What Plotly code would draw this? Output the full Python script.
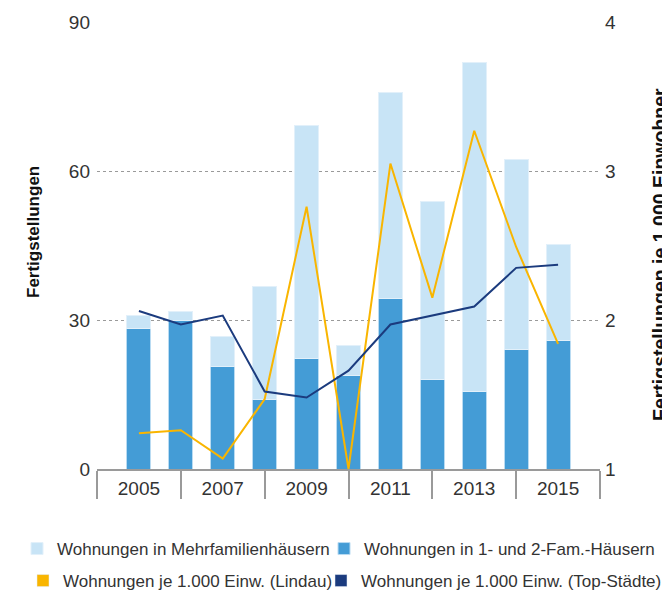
import plotly.graph_objects as go

years = [2005, 2006, 2007, 2008, 2009, 2010, 2011, 2012, 2013, 2014, 2015]
tick_years = [2005, 2007, 2009, 2011, 2013, 2015]
tick_labels = ["2005", "2007", "2009", "2011", "2013", "2015"]
sep_years = [2004, 2006, 2008, 2010, 2012, 2014, 2016]

fam12 = [28.2, 30.0, 20.6, 13.9, 22.3, 18.9, 34.4, 18.1, 15.6, 24.0, 25.8]
mehrfam = [2.7, 1.7, 6.0, 22.9, 46.8, 6.0, 41.5, 35.7, 66.3, 38.3, 19.5]
lindau = [1.24, 1.26, 1.07, 1.47, 2.76, 1.0, 3.05, 2.15, 3.27, 2.49, 1.84]
top_staedte = [2.06, 1.97, 2.03, 1.52, 1.48, 1.66, 1.97, 2.03, 2.09, 2.35, 2.37]

y_ticks = [0, 30, 60, 90]
y2_ticks = [1, 2, 3, 4]

C_LIGHT = "#c8e4f6"
C_DARK = "#449cd6"
C_ORANGE = "#f9b500"
C_NAVY = "#1b3b7e"

FONT = "Liberation Sans, Arial, sans-serif"

W, H = 662, 599
ML, MR, MT, MB = 97, 62, 22, 130
PW = W - ML - MR
PH = H - MT - MB


def px_x(px):
    return (px - ML) / PW


def px_y(py):
    return (H - MB - py) / PH


fig = go.Figure()
fig.add_trace(go.Bar(x=years, y=fam12, name="Wohnungen in 1- und 2-Fam.-Häusern",
                     marker=dict(color=C_DARK, line=dict(color="#b9dbf2", width=1)),
                     legend="legend2"))
fig.add_trace(go.Bar(x=years, y=mehrfam, name="Wohnungen in Mehrfamilienhäusern",
                     marker=dict(color=C_LIGHT, line=dict(color="#e2f0fa", width=1)),
                     legend="legend"))
fig.add_trace(go.Scatter(x=years, y=lindau, mode="lines", yaxis="y2",
                         line=dict(color=C_ORANGE, width=2), showlegend=False))
fig.add_trace(go.Scatter(x=years, y=top_staedte, mode="lines", yaxis="y2",
                         line=dict(color=C_NAVY, width=2), showlegend=False))
# square legend swatches for the line series
fig.add_trace(go.Bar(x=[None], y=[None], name="Wohnungen je 1.000 Einw. (Lindau)",
                     marker=dict(color=C_ORANGE), legend="legend3"))
fig.add_trace(go.Bar(x=[None], y=[None], name="Wohnungen je 1.000 Einw. (Top-Städte)",
                     marker=dict(color=C_NAVY), legend="legend4"))

LEG_FONT = dict(family=FONT, size=17, color="#333333")


def leg(text_start_px, row_y_px):
    return dict(orientation="h", x=px_x(text_start_px - 40), xanchor="left",
                y=px_y(row_y_px), yanchor="middle", font=LEG_FONT,
                bgcolor="rgba(0,0,0,0)", borderwidth=0)


fig.update_layout(
    width=W, height=H,
    margin=dict(l=ML, r=MR, t=MT, b=MB, autoexpand=False),
    paper_bgcolor="white", plot_bgcolor="white",
    barmode="stack", bargap=0.43,
    font=dict(family=FONT, size=19, color="#333333"),
    xaxis=dict(
        range=[2004, 2016], tickmode="array", tickvals=tick_years, ticktext=tick_labels,
        ticks="", showgrid=False, zeroline=False,
        showline=True, linecolor="#9a9a9a", linewidth=2,
        tickfont=dict(size=19, color="#333333"),
        ticklabelstandoff=1,
        minor=dict(tickmode="array", tickvals=sep_years, ticks="outside", ticklen=28,
                   tickwidth=2, tickcolor="#9a9a9a", showgrid=False),
    ),
    yaxis=dict(
        range=[0, 90], tickmode="array", tickvals=y_ticks,
        showgrid=True, gridcolor="#9a9a9a", gridwidth=1, griddash="dot",
        zeroline=False, showline=False, ticks="",
        tickfont=dict(size=19, color="#333333"), ticklabelstandoff=6,
    ),
    yaxis2=dict(
        range=[1, 4], tickmode="array", tickvals=y2_ticks, overlaying="y", side="right",
        showgrid=False, zeroline=False, showline=False, ticks="",
        tickfont=dict(size=19, color="#333333"), ticklabelstandoff=4,
    ),
    legend=leg(57, 549),
    legend2=leg(364, 549),
    legend3=leg(63, 581),
    legend4=leg(361, 581),
    annotations=[
        dict(text="<b>Fertigstellungen</b>", xref="paper", yref="paper",
             x=px_x(33), y=px_y(232), textangle=-90, showarrow=False,
             xanchor="center", yanchor="middle",
             font=dict(family=FONT, size=17, color="#111111")),
        dict(text="<b>Fertigstellungen je 1.000 Einwohner</b>", xref="paper", yref="paper",
             x=px_x(660), y=px_y(255), textangle=-90, showarrow=False,
             xanchor="center", yanchor="middle",
             font=dict(family=FONT, size=19.5, color="#111111")),
    ],
)

fig.write_html("out.html", config={"displayModeBar": False},
               post_script="document.body.style.margin='0';document.body.style.overflow='hidden';")
